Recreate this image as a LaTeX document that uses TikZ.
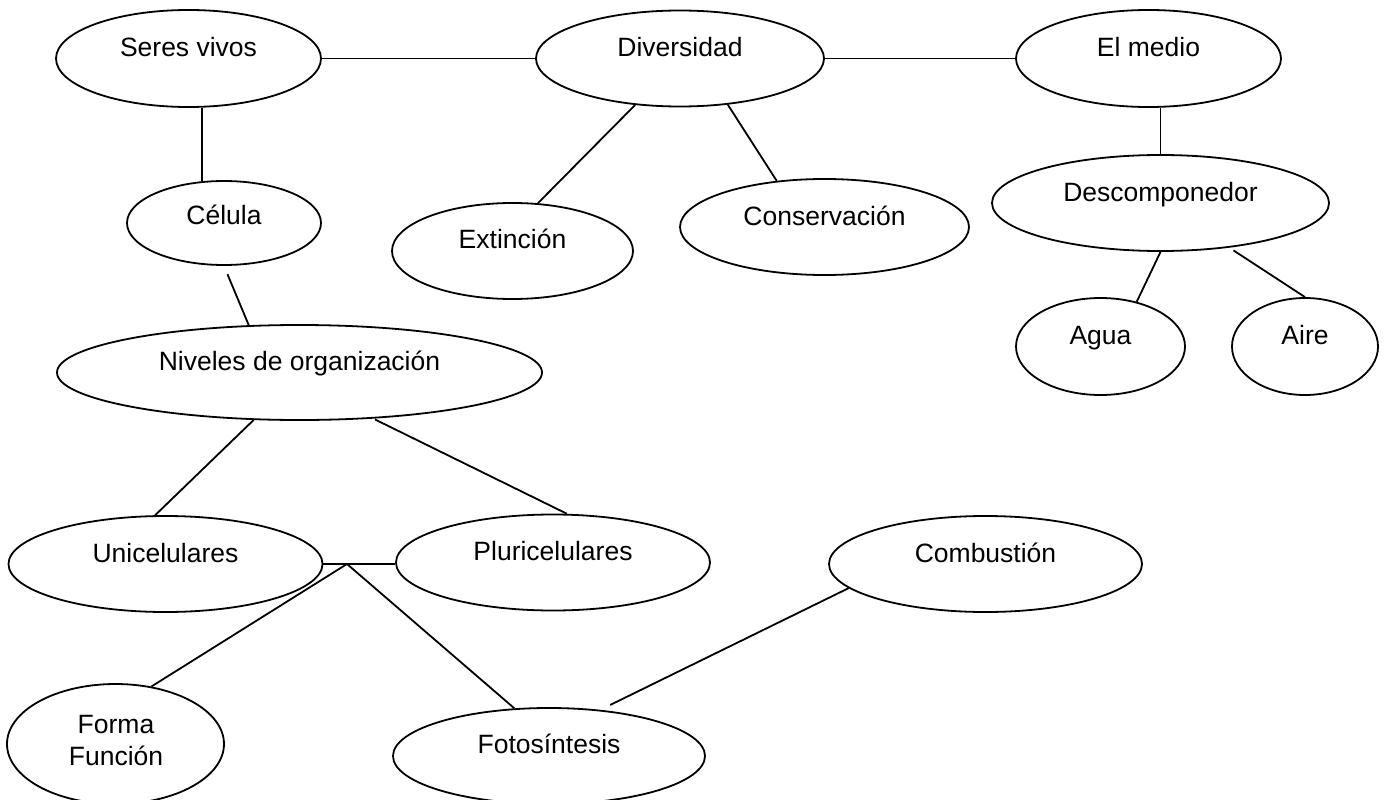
\documentclass[tikz,border=0pt]{standalone}
\usepackage{fontspec}
\setmainfont{Liberation Sans}
\usetikzlibrary{shapes.geometric}

\begin{document}
\begin{tikzpicture}[x=1pt, y=-1pt,
    concept/.style={ellipse, draw=black, line width=1.8pt, inner sep=0pt,
      text height=18pt, text depth=22pt,
      font=\fontsize{26.5}{32}\selectfont},
    link/.style={draw=black, line width=1.8pt}]
  \useasboundingbox (0,0) rectangle (1386,800);
  \clip (0,0) rectangle (1386,800);

  % top row
  \node[concept, minimum width=265pt, minimum height=97pt] (sv)   at (188.5,58.5) {Seres vivos};
  \node[concept, minimum width=288pt, minimum height=96pt] (div)  at (680,58.5)   {Diversidad};
  \node[concept, minimum width=265pt, minimum height=97pt] (em)   at (1148.5,58.5) {El medio};

  % second level
  \node[concept, minimum width=194pt, minimum height=84pt, text height=20pt, text depth=18pt] (cel) at (224,223) {Célula};
  \node[concept, minimum width=241pt, minimum height=96pt, text depth=24pt] (ext) at (512.5,251) {Extinción};
  \node[concept, minimum width=289pt, minimum height=96pt] (cons) at (824.5,227) {Conservación};
  \node[concept, minimum width=337pt, minimum height=96pt] (desc) at (1160.5,203) {Descomponedor};
  \node[concept, minimum width=169pt, minimum height=97pt] (agua) at (1100.5,346.5) {Agua};
  \node[concept, minimum width=146pt, minimum height=97pt] (aire) at (1305,346.5) {Aire};

  % organisation levels
  \node[concept, minimum width=485pt, minimum height=95pt] (niv)  at (299.5,372.5) {Niveles de organización};
  \node[concept, minimum width=314pt, minimum height=96pt] (uni)  at (165.5,564) {Unicelulares};
  \node[concept, minimum width=314pt, minimum height=96pt] (plu)  at (553,562.5) {Pluricelulares};
  \node[concept, minimum width=313pt, minimum height=96pt] (comb) at (985.5,564) {Combustión};
  \node[concept, minimum width=217pt, minimum height=120pt] (ff)  at (115.5,744) {};
  \node[font=\fontsize{26.5}{32}\selectfont, align=center, inner sep=0pt, anchor=base] (fftext) at (116,765) {Forma\\Función};
  \node[concept, minimum width=312pt, minimum height=96pt, text depth=24pt] (foto) at (549,756) {Fotosíntesis};

  % connectors
  \draw[link] (sv.east) -- (div.west);
  \draw[link] (div.east) -- (em.west);
  \draw[link] (cel.118.7) -- (cel.118.7 |- sv.south);
  \draw[link] (div.-134) -- (ext.62.5);
  \draw[link] (div.-44.4) -- (cons.136.8);
  \draw[link] (desc.north) -- (desc.north |- em.south);
  \draw[link] (desc.south) -- (agua.51.3);
  \draw[link, shorten <=5pt] (desc.-33) -- (aire.north);
  \draw[link, shorten <=9pt] (cel.south) -- (niv.137.6);
  \draw[link] (niv.-134.1) -- (uni.102.9);
  \draw[link, shorten <=2pt] (niv.-32.2) -- (plu.74.8);
  \draw[link] (uni.east) -- (uni.east -| plu.west);
  \coordinate (j) at (347,564);
  \draw[link] (j) -- (ff.58.3);
  \draw[link] (j) -- (foto.126.1);
  \draw[link, shorten <=11pt] (foto.42.8) -- (comb.-170.1);
\end{tikzpicture}
\end{document}
